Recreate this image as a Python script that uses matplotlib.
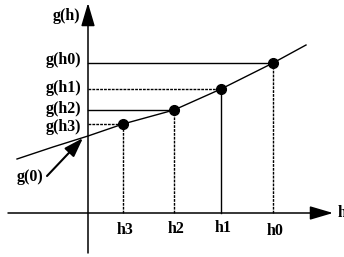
import numpy as np
import matplotlib
matplotlib.use("Agg")
import matplotlib.pyplot as plt

# Curve g(h) (schematic units, origin at the axes crossing)
curve_h = [-71, -35, 0, 35, 86, 133, 185, 218]
curve_g = [54, 66, 77, 89, 103, 124, 150, 168]

# Marked iterates
h_labels = ["h3", "h2", "h1", "h0"]
h_vals = [35, 86, 133, 185]
g_labels = ["g(h3)", "g(h2)", "g(h1)", "g(h0)"]
g_vals = [89, 103, 124, 150]
g_text_y = [86, 104, 125, 153]
h_text_y = [-17, -16, -15, -18]
guide_dashed = [True, False, True, False]   # horizontal guides
drop_dashed = [True, True, False, True]     # vertical guides

plt.rcParams['font.family'] = ['Liberation Serif', 'DejaVu Serif']
plt.rcParams['font.weight'] = 'bold'

fig = plt.figure(figsize=(3.44, 2.57), dpi=100)
ax = fig.add_axes([0, 0, 1, 1])
ax.set_xlim(-88, 256)
ax.set_ylim(-44, 213)
ax.axis('off')

# axes with arrows
arrow = dict(arrowstyle='-|>,head_length=0.95,head_width=0.28', mutation_scale=15,
             lw=1.1, color='black', shrinkA=0, shrinkB=0)
ax.annotate('', xy=(245, 0), xytext=(-80, 0), arrowprops=arrow)
ax.annotate('', xy=(0, 210), xytext=(0, -40), arrowprops=arrow)

# guides
dash = (0, (2.0, 0.8))
for h, g, hd, vd in zip(h_vals, g_vals, guide_dashed, drop_dashed):
    ax.plot([0, h], [g, g], color='black', lw=1.0, ls=dash if hd else '-')
    ax.plot([h, h], [0, g], color='black', lw=1.0, ls=dash if vd else '-')

ax.plot(curve_h, curve_g, color='black', lw=1.0)
ax.plot(h_vals, g_vals, 'o', color='black', ms=7)

# labels
fs = 11.5
ax.text(-8, 197, "g(h)", ha='right', va='center', fontsize=fs)
for lab, y in zip(g_labels, g_text_y):
    ax.text(-7, y, lab, ha='right', va='center', fontsize=fs)
for lab, h, y in zip(h_labels, h_vals, h_text_y):
    ax.text(h + 2, y, lab, ha='center', va='center', fontsize=fs)
ax.text(250, 0, "h", ha='left', va='center', fontsize=fs)

ax.text(-58, 36, "g(0)", ha='center', va='center', fontsize=fs)
ax.annotate('', xy=(-5, 75), xytext=(-41, 37),
            arrowprops=dict(arrowstyle='-|>,head_length=0.9,head_width=0.3', mutation_scale=13,
                            lw=1.5, color='black', shrinkA=0, shrinkB=0))

fig.savefig("out.png", dpi=100)
